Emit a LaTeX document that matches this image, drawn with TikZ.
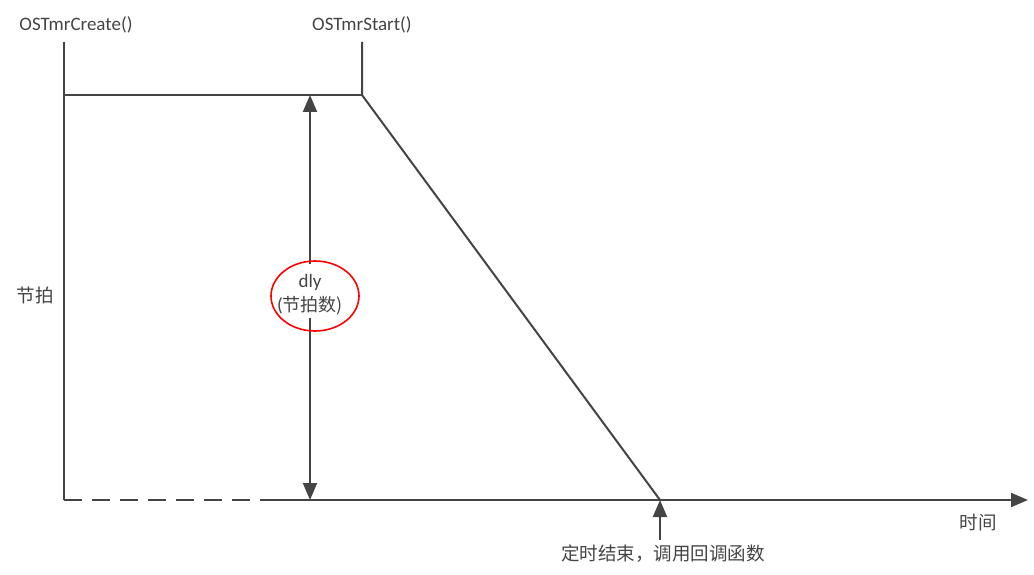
\documentclass[tikz,border=0pt]{standalone}
\usepackage{fontspec}
\setmainfont{Carlito}
\newfontfamily\cjk{Noto Sans CJK SC}
\usetikzlibrary{arrows.meta}
\definecolor{ln}{HTML}{444444}
\begin{document}
\begin{tikzpicture}[x=1pt,y=-1pt,
  every node/.style={inner sep=0pt,text=ln},
  lbl/.style={font=\fontsize{19}{22}\selectfont},
  clbl/.style={font=\cjk\fontsize{18.5}{22}\selectfont},
  axis/.style={draw=ln,line width=2pt},
  tip/.style={-{Triangle[length=17pt,width=14pt]}},
]
\useasboundingbox (0,0) rectangle (1034,575);
% coordinates
\coordinate (ctop) at (64,42);
\coordinate (corner) at (64,95);
\coordinate (origin) at (64,500);
\coordinate (stop) at (362,42);
\coordinate (sstart) at (362,95);
\coordinate (end) at (660,500);
\coordinate (dashend) at (274,500);
\coordinate (xend) at (1028,500);
\coordinate (atop) at (310,95);
\coordinate (abot) at (310,500);
\coordinate (upfrom) at (660,540);
% labels
\node[lbl] (create) at (76,25) {OSTmrCreate()};
\node[lbl] (start) at (362,25) {OSTmrStart()};
\node[clbl] (yl) at (35,295) {节拍};
\node[clbl] (xl) at (978,523) {时间};
\node[clbl] (done) at (663,554) {定时结束，调用回调函数};
\node[lbl] (dly) at (310,282) {dly};
\node[font=\fontsize{19}{22}\selectfont] (cnt) at (310,306) {(\cjk\fontsize{18}{22}\selectfont 节拍数)};
% lines
\draw[axis] (ctop) -- (origin);
\draw[axis] (corner) -- (sstart);
\draw[axis] (stop) -- (sstart) -- (end);
\draw[axis,dash pattern=on 18pt off 10pt] (origin) -- (dashend);
\draw[axis,tip] (dashend) -- (xend);
\draw[axis,tip] (310,264) -- (atop);
\draw[axis,tip] (310,318) -- (abot);
\draw[axis,tip] (upfrom) -- (end);
% red ellipse
\draw[red,line width=1.6pt] (315,296) ellipse [x radius=44pt,y radius=35pt];
\end{tikzpicture}
\end{document}
